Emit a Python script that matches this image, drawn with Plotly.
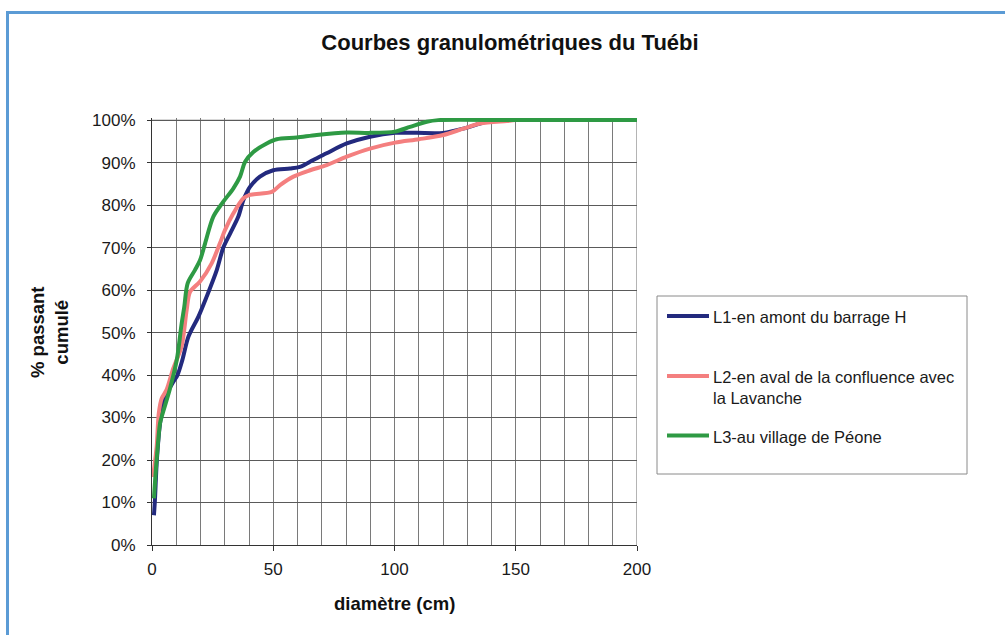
import plotly.graph_objects as go

# Grain-size distribution curves (cumulative % passing vs diameter in cm)
l1_diam = [0.8, 1.2, 2.0, 3.3, 5.4, 8.8, 10.5, 12.5, 15.0, 19.1, 22.5, 26.7, 29.4, 32.2,
           35.6, 37.7, 40.4, 44.5, 50.0, 56.9, 61.0, 66.5, 72.0, 80.3, 89.9, 100.2,
           109.2, 120.1, 128.4, 135.3, 140.0, 150.0, 200.0]
l1_pass = [7.0, 10.5, 20.0, 28.5, 34.9, 38.4, 40.0, 43.5, 49.0, 53.7, 58.4, 64.7, 70.0, 73.3,
           77.3, 81.2, 84.3, 86.7, 88.2, 88.6, 89.0, 90.6, 92.2, 94.5, 96.1, 97.0,
           97.0, 97.0, 98.0, 99.2, 100.0, 100.0, 100.0]

l2_diam = [0.4, 1.9, 2.8, 4.0, 6.0, 8.8, 12.2, 14.3, 15.7, 19.8, 24.6, 28.0, 30.1, 33.5,
           37.7, 40.4, 49.4, 52.8, 58.3, 65.2, 72.0, 80.3, 89.9, 100.2, 110.1, 120.1,
           128.4, 135.3, 146.3, 150.0, 200.0]
l2_pass = [16.0, 23.0, 31.0, 34.5, 36.5, 41.6, 46.7, 55.3, 59.6, 62.0, 66.3, 71.0, 74.1, 78.0,
           81.6, 82.4, 83.1, 84.7, 86.7, 88.2, 89.4, 91.4, 93.3, 94.7, 95.5, 96.5,
           98.0, 99.2, 99.8, 100.0, 100.0]

l3_diam = [0.8, 1.9, 3.3, 4.0, 7.4, 10.2, 12.2, 13.3, 14.7, 17.7, 19.8, 21.9, 25.3, 29.4,
           33.5, 36.3, 38.4, 41.8, 47.3, 51.4, 59.7, 67.9, 80.3, 89.9, 100.2, 106.4,
           113.3, 118.0, 150.0, 200.0]
l3_pass = [11.0, 20.0, 28.6, 30.2, 36.8, 43.5, 52.0, 56.0, 61.6, 64.7, 67.0, 71.0, 77.3, 80.8,
           83.9, 86.7, 90.2, 92.5, 94.5, 95.5, 95.9, 96.5, 97.1, 97.0, 97.3, 98.4,
           99.6, 100.0, 100.0, 100.0]

series_names = ["L1-en amont du barrage H",
                "L2-en aval de la confluence avec<br>la Lavanche",
                "L3-au village de Péone"]
series_colors = ["#232a7e", "#f47f7f", "#2e9a44"]

y_ticks = list(range(0, 101, 10))
y_tick_text = [f"{v}%" for v in y_ticks]
x_ticks = [0, 50, 100, 150, 200]

FONT = "Arial, 'Liberation Sans', sans-serif"

# Plot-area geometry (pixels)
W, H = 1005, 635
ML, MR, MT, MB = 152, 368, 118, 90
PW, PH = W - ML - MR, H - MT - MB


def px_x(px):
    return (px - ML) / PW


def px_y(py):
    return (H - MB - py) / PH


fig = go.Figure()
for xs, ys, name, col in zip([l1_diam, l2_diam, l3_diam],
                             [l1_pass, l2_pass, l3_pass],
                             series_names, series_colors):
    fig.add_trace(go.Scatter(x=xs, y=ys, mode="lines", name=name,
                             line=dict(color=col, width=4, shape="spline", smoothing=0.85),
                             showlegend=False))

fig.update_layout(
    width=W, height=H,
    margin=dict(l=ML, r=MR, t=MT, b=MB, pad=0),
    paper_bgcolor="white", plot_bgcolor="white",
    font=dict(family=FONT, size=17, color="#1a1a1a"),
    title=dict(text="<b>Courbes granulométriques du Tuébi</b>",
               x=510 / W, xanchor="center", y=1 - 42 / H, yanchor="middle",
               font=dict(size=22, color="#111")),
    xaxis=dict(range=[0, 200], tickvals=x_ticks, ticks="outside", ticklen=5,
               tickcolor="#333", showgrid=True, gridcolor="#7a7a7a", gridwidth=1,
               minor=dict(dtick=10, showgrid=True, gridcolor="#7a7a7a", gridwidth=1),
               showline=True, linecolor="#333", linewidth=1, zeroline=False,
               ticklabelstandoff=4, fixedrange=True),
    yaxis=dict(range=[0, 100.5], tickvals=y_ticks, ticktext=y_tick_text,
               ticks="outside", ticklen=4, tickcolor="#333",
               showgrid=True, gridcolor="#5a5a5a", gridwidth=1,
               showline=True, linecolor="#333", linewidth=1, zeroline=False,
               ticklabelstandoff=8, fixedrange=True),
)

# Right and top edges of the plotting area
fig.add_shape(type="line", xref="x", yref="y", x0=200, x1=200, y0=0, y1=100,
              line=dict(color="#b4b4b4", width=2), layer="below")
fig.add_shape(type="line", xref="x", yref="y", x0=0, x1=200, y0=100, y1=100,
              line=dict(color="#9a9a9a", width=1), layer="below")

# Outer chart frame
fig.add_shape(type="rect", xref="paper", yref="paper",
              x0=px_x(7.5), x1=px_x(1012), y0=px_y(642), y1=px_y(12.5),
              line=dict(color="#5b9bd5", width=3), fillcolor="rgba(0,0,0,0)")

# Axis titles
fig.add_annotation(text="<b>diamètre (cm)</b>", xref="paper", yref="paper",
                   x=0.5, y=px_y(603), xanchor="center", yanchor="middle",
                   showarrow=False, font=dict(size=18.5, color="#111"))
fig.add_annotation(text="<b>% passant<br>cumulé</b>", xref="paper", yref="paper",
                   x=px_x(49), y=px_y(332), xanchor="center", yanchor="middle",
                   textangle=-90, showarrow=False, align="center",
                   font=dict(size=18.5, color="#111"))

# Legend box
fig.add_shape(type="rect", xref="paper", yref="paper",
              x0=px_x(657), x1=px_x(967), y0=px_y(474), y1=px_y(296),
              line=dict(color="#8a8a8a", width=1), fillcolor="white")
legend_rows = [316, 376, 435.5]
for row, name, col in zip(legend_rows, series_names, series_colors):
    fig.add_shape(type="line", xref="paper", yref="paper",
                  x0=px_x(667), x1=px_x(709), y0=px_y(row), y1=px_y(row),
                  line=dict(color=col, width=4))
    fig.add_annotation(text=name, xref="paper", yref="paper",
                       x=px_x(711), y=px_y(row - 10), xanchor="left", yanchor="top",
                       showarrow=False, align="left",
                       font=dict(size=16.5, color="#1a1a1a"))

fig.write_html("out.html")
